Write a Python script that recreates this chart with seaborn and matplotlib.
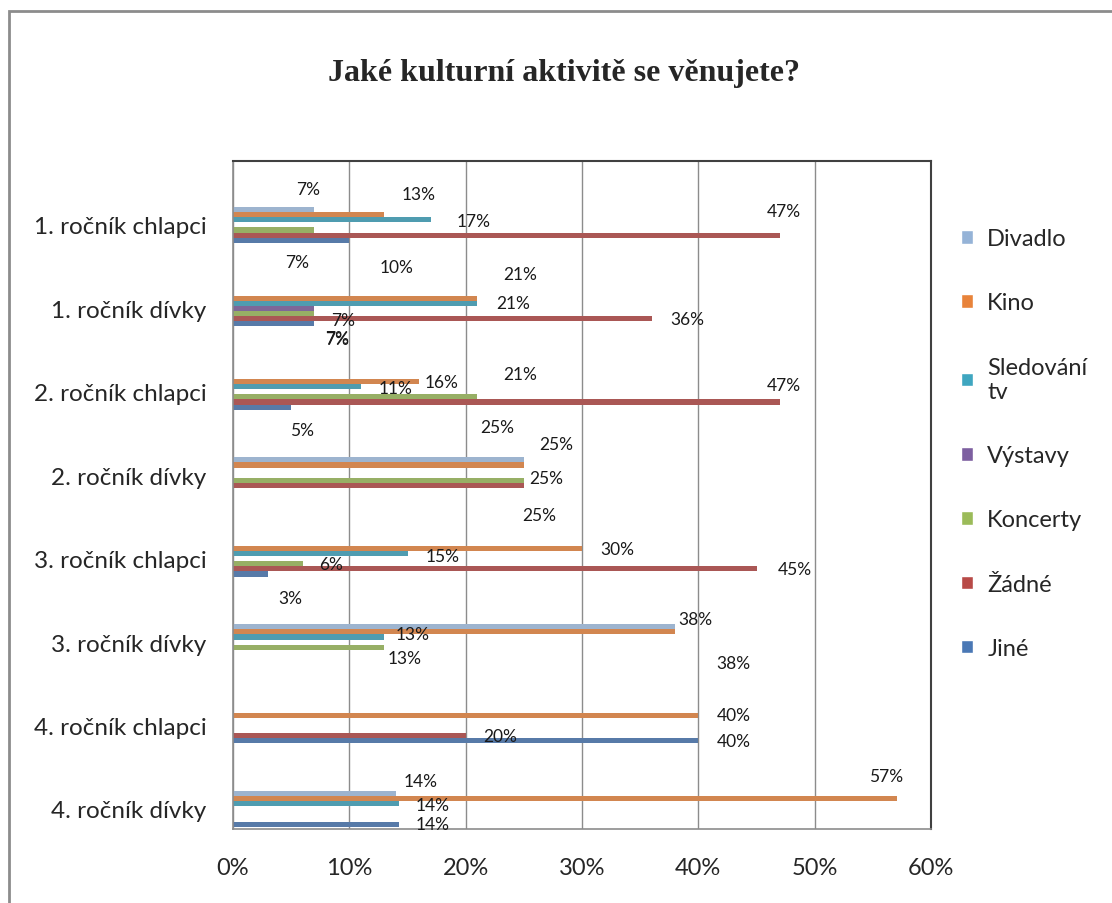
import numpy as np
import pandas as pd
import matplotlib
matplotlib.use('Agg')
import matplotlib.pyplot as plt
import seaborn as sns
from matplotlib.patches import Rectangle

# ==========================================
# Data (in %)
# ==========================================
groups = ['1. ročník chlapci', '1. ročník dívky', '2. ročník chlapci', '2. ročník dívky',
          '3. ročník chlapci', '3. ročník dívky', '4. ročník chlapci', '4. ročník dívky']
activities = ['Divadlo', 'Kino', 'Sledování tv', 'Výstavy', 'Koncerty', 'Žádné', 'Jiné']

divadlo = [7, 0, 0, 25, 0, 38, 0, 14]
kino = [13, 21, 16, 25, 30, 38, 40, 57.1]
sledovani = [17, 21, 11, 0, 15, 13, 0, 14.3]
vystavy = [0, 7, 0, 0, 0, 0, 0, 0]
koncerty = [7, 7, 21, 25, 6, 13, 0, 0]
zadne = [47, 36, 47, 25, 45, 0, 20, 0]
jine = [10, 7, 5, 0, 3, 0, 40, 14.3]

colors = ['#95B3D7', '#E8833A', '#3FA6C0', '#7D5FA0', '#9BBB59', '#B84A47', '#4A78B5']

# label offsets (pixels, dx right / dy down) relative to bar end, the Excel labels are scattered
label_offsets = {
    (0, 0): (-6, -21), (0, 1): (34, -21), (0, 2): (43, 1), (0, 4): (-17, 32), (0, 5): (4, -24), (0, 6): (47, 27),
    (1, 1): (43, -24), (1, 2): (36, 0), (1, 3): (29, 12), (1, 4): (23, 25), (1, 5): (36, 0), (1, 6): (23, 15),
    (2, 1): (22, 0), (2, 2): (35, 1), (2, 4): (43, -23), (2, 5): (4, -17), (2, 6): (11, 23),
    (3, 0): (-27, -33), (3, 1): (32, -21), (3, 4): (22, -2), (3, 5): (15, 30),
    (4, 1): (35, 1), (4, 2): (35, 2), (4, 4): (28, 0), (4, 5): (38, 0), (4, 6): (22, 24),
    (5, 0): (20, -8), (5, 1): (58, 31), (5, 2): (28, -3), (5, 4): (20, 11),
    (6, 1): (35, 0), (6, 5): (34, 0), (6, 6): (35, 0),
    (7, 0): (25, -13), (7, 1): (-11, -23), (7, 2): (33, 1), (7, 6): (33, 0),
}


def build_frame():
    series = [divadlo, kino, sledovani, vystavy, koncerty, zadne, jine]
    rows = []
    for act, vals in zip(activities, series):
        for g, v in zip(groups, vals):
            rows.append({'skupina': g, 'aktivita': act, 'hodnota': v})
    return pd.DataFrame(rows)


def main():
    sns.set_style('white')
    plt.rcParams['font.family'] = ['Lato', 'DejaVu Sans']

    df = build_frame()

    fig = plt.figure(figsize=(11.12, 9.04), dpi=100)
    ax = fig.add_axes([233 / 1112, 74 / 904, 698 / 1112, 668 / 904])

    sns.barplot(data=df, x='hodnota', y='skupina', hue='aktivita', order=groups, hue_order=activities,
                palette=colors, orient='h', width=0.43, errorbar=None, linewidth=0, legend=False, ax=ax)

    # osy
    ax.set_xlim(0, 60)
    ax.set_ylim(7.24, -0.766)
    ax.set_xticks(np.arange(0, 61, 10))
    ax.set_xticklabels([f'{t}%' for t in range(0, 61, 10)])
    ax.set_xlabel('')
    ax.set_ylabel('')
    ax.tick_params(axis='x', length=0, pad=20, labelsize=17, colors='#262626')
    ax.tick_params(axis='y', length=0, pad=19, labelsize=17.5, colors='#262626')
    ax.xaxis.grid(True, color='#8C8C8C', linewidth=1)
    ax.set_axisbelow(True)
    for side in ['left', 'bottom']:
        ax.spines[side].set_color('#8C8C8C')
        ax.spines[side].set_linewidth(1.2)
    for side in ['top', 'right']:
        ax.spines[side].set_color('#404040')
        ax.spines[side].set_linewidth(1.5)

    # popisky hodnot
    for i, cont in enumerate(ax.containers):
        for g, bar in enumerate(cont):
            w = bar.get_width()
            if w <= 0:
                continue
            dx, dy = label_offsets.get((g, i), (30, 0))
            ax.annotate(f'{w:.0f}%', (w, bar.get_y() + bar.get_height() / 2),
                        xytext=(dx, -dy), textcoords='offset pixels',
                        ha='center', va='center', fontsize=12.5, color='#1a1a1a')

    # legenda
    handles = [Rectangle((0, 0), 1, 1, facecolor=c) for c in colors]
    names = ['Divadlo', 'Kino', 'Sledování\ntv', 'Výstavy', 'Koncerty', 'Žádné', 'Jiné']
    fig.legend(handles, names, loc='upper left', bbox_to_anchor=(940 / 1112, 1 - 208 / 904),
               frameon=False, fontsize=17, labelspacing=1.83, handlelength=0.5, handleheight=0.5,
               handletextpad=0.6, labelcolor='#262626')

    fig.text(564 / 1112, 1 - 73 / 904, 'Jaké kulturní aktivitě se věnujete?', ha='center', va='center',
             fontsize=23, fontweight='bold', family=['Liberation Serif', 'DejaVu Serif'])

    # rámeček grafu
    fig.patches.append(Rectangle((9 / 1112, -0.1), 1.2, 1 - 12 / 904 + 0.1, transform=fig.transFigure,
                                 fill=False, edgecolor='#8C8C8C', linewidth=2))

    fig.savefig('out.png', dpi=100)


if __name__ == '__main__':
    main()
